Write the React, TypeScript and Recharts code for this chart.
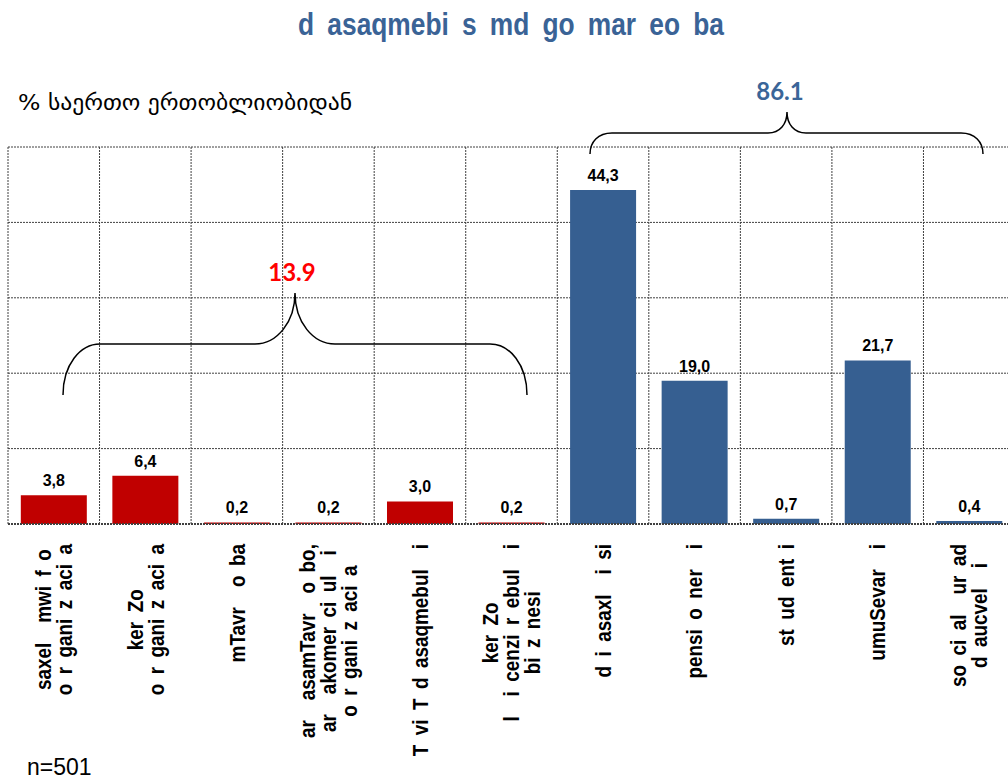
import React from "react";
import { Bar, BarChart, CartesianGrid, Cell, LabelList, XAxis, YAxis } from "recharts";

// categories (as printed, AcadNusx transliteration), one array of lines per bar
const categories = [
  ["saxel  mwi f o", "o r gani z aci a"],
  ["ker Zo", "o r gani z aci a"],
  ["mTavr  o ba"],
  ["ar  asamTavr  o bo,", "ar  akomer ci ul  i", "o r gani z aci a"],
  ["T vi T d asaqmebul  i"],
  ["ker Zo", "l  i cenzi r ebul  i", "bi z nesi"],
  ["d i asaxl   i si"],
  ["pensi o ner  i"],
  ["st ud ent i"],
  ["umuSevar  i"],
  ["so ci al  ur ad", "d aucvel  i"],
];
const values = [3.8, 6.4, 0.2, 0.2, 3.0, 0.2, 44.3, 19.0, 0.7, 21.7, 0.4];
const barColors = ["#C00000", "#C00000", "#C00000", "#C00000", "#C00000", "#C00000", "#365F91", "#365F91", "#365F91", "#365F91", "#365F91"];
const yTicks = [0, 10, 20, 30, 40, 50];

const groupTotals = ["13.9", "86.1"];

const chartData = categories.map((lines, i) => ({
  name: lines.join(" "),
  value: values[i],
}));

const LABEL_FONT = '"Liberation Sans", Arial, sans-serif';
const LABEL_SIZE = 22;
const SQUEEZE = 0.86;

// the original font leaves wide gaps where glyphs are missing
function gaps(s: string) {
  return s.replace(/ {2,}/g, "\u2002\u00a0\u00a0").replace(/ /g, "\u2002");
}

let measureCtx: CanvasRenderingContext2D | null = null;
function textWidth(s: string) {
  if (!measureCtx) measureCtx = document.createElement("canvas").getContext("2d");
  if (!measureCtx) return s.length * LABEL_SIZE * 0.5;
  measureCtx.font = `bold ${LABEL_SIZE}px ${LABEL_FONT}`;
  return measureCtx.measureText(s).width;
}

function VerticalTick(props: any) {
  const { x, y, payload } = props;
  const lines = (categories[payload.index] || []).map(gaps);
  const top = y + 12;
  const longest = Math.max(...lines.map(textWidth));
  return (
    <g>
      {lines.map((line, i) => (
        <text
          key={i}
          transform={`translate(${x + (i - (lines.length - 1) / 2) * 21},${top}) rotate(-90) scale(${SQUEEZE},1)`}
          x={-longest / 2}
          dy="0.35em"
          textAnchor="middle"
          fontFamily={LABEL_FONT}
          fontSize={LABEL_SIZE}
          fontWeight="bold"
          fill="#000"
        >
          {line}
        </text>
      ))}
    </g>
  );
}

function fmtComma(v: any) {
  return Number(v).toFixed(1).replace(".", ",");
}

export default function App() {
  return (
    <div style={{ position: "fixed", left: 0, top: 0, width: 1008, height: 780, overflow: "hidden", background: "#fff" }}>
      <div style={{ position: "absolute", left: 0, top: 0 }}>
        <BarChart
          width={1016}
          height={780}
          data={chartData}
          margin={{ top: 147, right: 1, bottom: 0, left: 8 }}
          barCategoryGap="14%"
        >
          <CartesianGrid
            stroke="#404040"
            strokeDasharray="2 1"
            verticalCoordinatesGenerator={({ offset }: any) =>
              categories.map((_, i) => offset.left + (i * offset.width) / categories.length)
            }
          />
          <YAxis hide domain={[0, 50]} ticks={yTicks} />
          <XAxis
            dataKey="name"
            interval={0}
            height={256}
            tickLine={false}
            axisLine={{ stroke: "#404040", strokeDasharray: "2 1", strokeWidth: 2 }}
            tick={<VerticalTick />}
          />
          <Bar dataKey="value" isAnimationActive={false}>
            {chartData.map((_, i) => (
              <Cell key={i} fill={barColors[i]} />
            ))}
            <LabelList
              dataKey="value"
              position="top"
              offset={9}
              formatter={fmtComma}
              style={{ fontFamily: LABEL_FONT, fontSize: 16, fontWeight: "bold", fill: "#000" }}
            />
          </Bar>
        </BarChart>
      </div>
      <svg width={1008} height={780} style={{ position: "absolute", left: 0, top: 0, pointerEvents: "none" }}>
        <text
          transform="translate(511,35) scale(0.85,1)"
          textAnchor="middle"
          fontFamily={LABEL_FONT}
          fontSize={31}
          fontWeight="bold"
          fill="#3A6396"
        >
          {gaps("d asaqmebi s md go mar eo ba")}
        </text>
        <text
          x={18}
          y={110}
          textLength={334}
          lengthAdjust="spacingAndGlyphs"
          fontFamily='"DejaVu Sans", sans-serif'
          fontSize={21}
          fill="#000"
        >
          % საერთო ერთობლიობიდან
        </text>
        <path
          d="M63,395 C63,365 80,344 100,344 L255,344 C277,344 295,322 295,293 C295,322 313,344 335,344 L490,344 C510,344 527,365 527,395"
          fill="none"
          stroke="#000"
          strokeWidth={1.5}
        />
        <text x={292} y={281} textAnchor="middle" fontFamily="Lato, sans-serif" fontSize={24} fontWeight="bold" fill="#FF0000">
          {groupTotals[0]}
        </text>
        <path
          d="M590,154 C590,142 598,133 612,133 L768,133 C780,133 787,124 787,112 C787,124 794,133 806,133 L961,133 C975,133 983,142 983,154"
          fill="none"
          stroke="#000"
          strokeWidth={1.5}
        />
        <text x={780} y={100} textAnchor="middle" fontFamily="Lato, sans-serif" fontSize={24} fontWeight="bold" fill="#3A6598">
          {groupTotals[1]}
        </text>
        <text x={27} y={775} fontFamily={LABEL_FONT} fontSize={23} fill="#000">
          n=501
        </text>
      </svg>
    </div>
  );
}
